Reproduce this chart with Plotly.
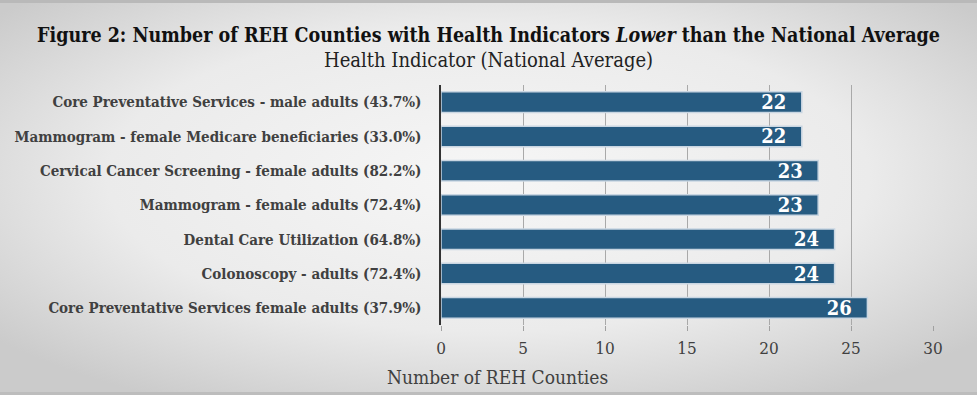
import base64
import plotly.graph_objects as go

categories = [
    "Core Preventative Services - male adults (43.7%)",
    "Mammogram - female Medicare beneficiaries (33.0%)",
    "Cervical Cancer Screening - female adults (82.2%)",
    "Mammogram - female adults (72.4%)",
    "Dental Care Utilization (64.8%)",
    "Colonoscopy - adults (72.4%)",
    "Core Preventative Services female adults (37.9%)",
]
counts = [22, 22, 23, 23, 24, 24, 26]
x_ticks = [0, 5, 10, 15, 20, 25, 30]

FONT = "DejaVu Serif Condensed, Liberation Serif, serif"
W, H = 977, 395
L, R, T, B = 441, 44, 85, 70
PW, PH = W - L - R, H - T - B

# background gradient (radial, light centre, grey edges) as an inline SVG
svg = (
    '<svg xmlns="http://www.w3.org/2000/svg" width="977" height="395" '
    'viewBox="0 0 977 395" preserveAspectRatio="none">'
    '<defs><radialGradient id="g" cx="0.5" cy="0.45" r="0.65" '
    'gradientUnits="objectBoundingBox">'
    '<stop offset="0" stop-color="#f6f6f6"/>'
    '<stop offset="0.6" stop-color="#ebebeb"/>'
    '<stop offset="1" stop-color="#cbcbcb"/>'
    '</radialGradient></defs>'
    '<rect width="977" height="395" fill="url(#g)"/>'
    '<rect width="977" height="3" fill="#b9b9b9"/>'
    '<rect y="392" width="977" height="3" fill="#bdbdbd"/>'
    '</svg>'
)
bg_src = "data:image/svg+xml;base64," + base64.b64encode(svg.encode()).decode()

fig = go.Figure(
    go.Bar(
        x=counts,
        y=categories,
        orientation="h",
        marker=dict(color="#265b81", line=dict(color="#c9d6e2", width=1.5)),
        texttemplate="%{x}\u00a0\u00a0",
        textposition="inside",
        insidetextanchor="end",
        constraintext="none",
        textfont=dict(family=FONT, size=20, color="white", weight="bold"),
        width=0.6,
        hoverinfo="skip",
    )
)

fig.update_layout(
    width=W,
    height=H,
    margin=dict(l=L, r=R, t=T, b=B),
    paper_bgcolor="#e6e6e6",
    plot_bgcolor="rgba(0,0,0,0)",
    showlegend=False,
    font=dict(family=FONT, color="#404040"),
    images=[
        dict(
            source=bg_src,
            xref="paper", yref="paper",
            x=-L / PW, y=1 + T / PH,
            sizex=W / PW, sizey=H / PH,
            xanchor="left", yanchor="top",
            sizing="stretch",
            layer="below",
        )
    ],
    title=dict(
        text="<b>Figure 2: Number of REH Counties with Health Indicators <i>Lower</i> than the National Average</b>",
        x=0.5,
        xanchor="center",
        y=1 - 35 / H,
        yanchor="middle",
        font=dict(family=FONT, size=19.5, color="#111111"),
    ),
    xaxis=dict(
        range=[0, 30],
        tickvals=x_ticks,
        showgrid=True,
        gridcolor="#a9a9a9",
        gridwidth=1,
        zeroline=False,
        ticks="outside",
        ticklen=5,
        tickcolor="#a0a0a0",
        ticklabelstandoff=3,
        tickfont=dict(family=FONT, size=17, color="#404040"),
        showline=False,
        fixedrange=True,
    ),
    yaxis=dict(
        categoryorder="array",
        categoryarray=categories,
        autorange="reversed",
        showline=True,
        linecolor="#333333",
        linewidth=2.5,
        ticks="",
        ticklabelstandoff=14,
        tickfont=dict(family=FONT, size=15, color="#404040", weight="bold"),
        showgrid=False,
        fixedrange=True,
    ),
    annotations=[
        dict(
            text="Health Indicator (National Average)",
            xref="paper", yref="paper",
            x=(W / 2 - L) / PW, y=1 + (T - 60) / PH,
            xanchor="center", yanchor="middle",
            showarrow=False,
            font=dict(family=FONT, size=20, color="#222222"),
        ),
        dict(
            text="Number of REH Counties",
            xref="paper", yref="paper",
            x=(385 - L) / PW, y=-(377 - (H - B)) / PH,
            xanchor="left", yanchor="middle",
            showarrow=False,
            font=dict(family=FONT, size=19, color="#404040"),
        ),
    ],
)

fig.write_html(
    "out.html",
    config={"displayModeBar": False, "staticPlot": True},
    post_script="document.body.style.margin='0';document.body.style.padding='0';",
)
